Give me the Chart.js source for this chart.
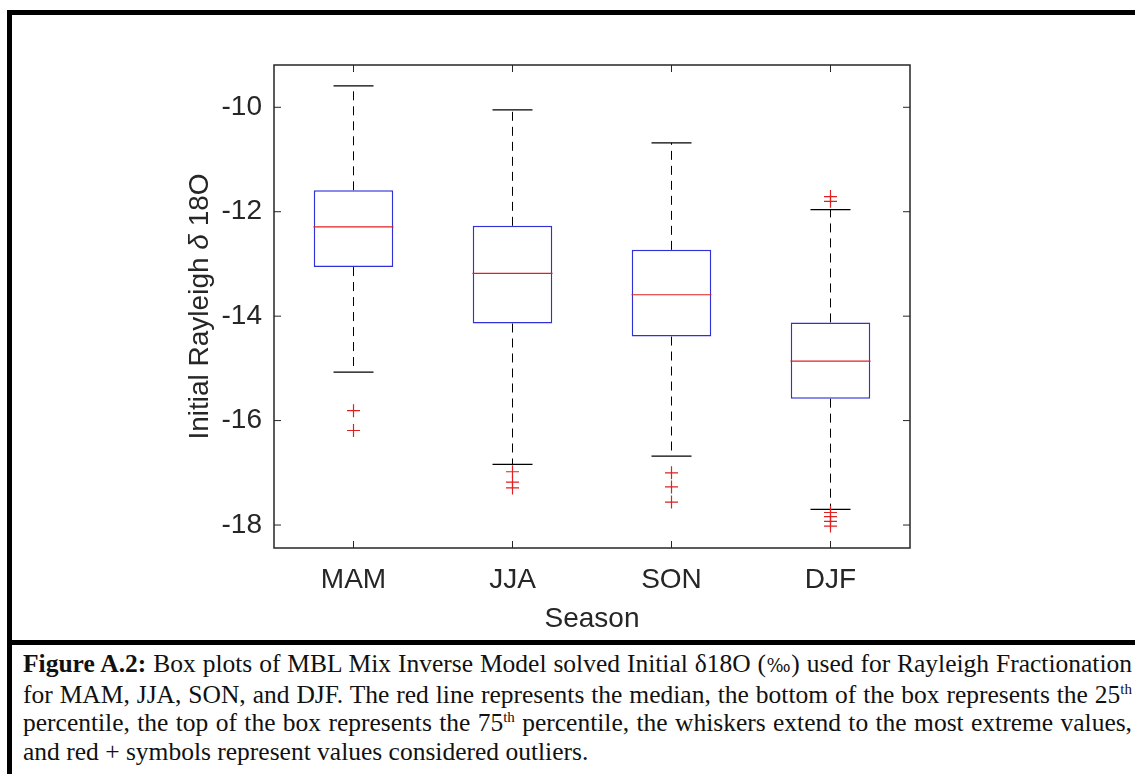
<!DOCTYPE html>
<html>
<head>
<meta charset="utf-8">
<script src="https://cdn.jsdelivr.net/npm/chart.js@4.4.1/dist/chart.umd.min.js"></script>
<style>
    body { margin: 0; background: #fff; width: 1135px; height: 774px; overflow: hidden; position: relative; }
    #frame { position: absolute; left: 7px; top: 10px; width: 1150px; height: 635px; box-sizing: border-box; border: 5px solid #000; }
    #capbox { position: absolute; left: 7px; top: 645px; width: 5px; height: 140px; background: #000; }
    #chart { position: absolute; left: 12px; top: 15px; }
    #caption { position: absolute; left: 23px; top: 650px; width: 1109px; font-family: 'Liberation Serif', 'Times New Roman', serif; font-size: 25.5px; line-height: 28.5px; color: #111; }
    #caption div { text-align: justify; text-align-last: justify; white-space: nowrap; }
    #caption div.last { text-align-last: left; }
    #caption sup { font-size: 15px; vertical-align: 9px; line-height: 0; }
    #caption .pm { font-family: 'DejaVu Serif', serif; font-size: 18px; }
</style>
</head>
<body>
<div id="frame"></div>
<div id="capbox"></div>
<canvas id="chart" width="1123" height="626"></canvas>
<div id="caption">
    <div><b>Figure A.2:</b> Box plots of MBL Mix Inverse Model solved Initial δ18O (<span class="pm">‰</span>) used for Rayleigh Fractionation</div>
    <div>for MAM, JJA, SON, and DJF. The red line represents the median, the bottom of the box represents the 25<sup>th</sup></div>
    <div>percentile, the top of the box represents the 75<sup>th</sup> percentile, the whiskers extend to the most extreme values,</div>
    <div class="last">and red + symbols represent values considered outliers.</div>
</div>
<script>
// Box plot values
const seasons = ['MAM', 'JJA', 'SON', 'DJF'];
const whiskerLow = [-15.07, -16.84, -16.68, -17.70];
const q1 = [-13.06, -14.14, -14.39, -15.58];
const median = [-12.29, -13.18, -13.59, -14.86];
const q3 = [-11.59, -12.27, -12.73, -14.12];
const whiskerHigh = [-9.59, -10.05, -10.68, -11.96];
const outliers = [
    [-15.81, -16.19],
    [-16.98, -17.18, -17.29],
    [-17.00, -17.27, -17.56],
    [-11.71, -11.80, -17.76, -17.84, -17.93, -18.02]
];
const yTicks = [-18, -16, -14, -12, -10];
const yMin = -18.44;
const yMax = -9.19;
const yTitle = ['Initial Rayleigh ', 'δ', ' 18O'];

const axisColor = '#262626';
const fontFamily = "'Liberation Sans', Arial, sans-serif";
const font = { family: fontFamily, size: 28 };

// dashed whisker stems, broken with nulls between segments
const stems = [];
seasons.forEach(function(s, i) {
    stems.push({ x: s, y: q3[i] }, { x: s, y: whiskerHigh[i] }, { x: s, y: null });
    stems.push({ x: s, y: q1[i] }, { x: s, y: whiskerLow[i] }, { x: s, y: null });
});

const caps = [];
seasons.forEach(function(s, i) {
    caps.push({ x: s, y: whiskerHigh[i] }, { x: s, y: whiskerLow[i] });
});

const outlierPts = [];
seasons.forEach(function(s, i) {
    outliers[i].forEach(function(v) { outlierPts.push({ x: s, y: v }); });
});

// box frame and inward ticks like MATLAB, plus the y title with an italic delta
const frameTicks = {
    id: 'frameTicks',
    afterDatasetsDraw(chart) {
        const ctx = chart.ctx;
        const a = chart.chartArea;
        const xs = chart.scales.x, ys = chart.scales.y;
        const len = 7;
        ctx.save();
        ctx.strokeStyle = axisColor;
        ctx.lineWidth = 1.5;
        ctx.strokeRect(a.left, a.top, a.right - a.left, a.bottom - a.top);
        ctx.lineWidth = 1;
        ctx.beginPath();
        yTicks.forEach(function(v) {
            const py = ys.getPixelForValue(v);
            ctx.moveTo(a.left, py); ctx.lineTo(a.left + len, py);
            ctx.moveTo(a.right, py); ctx.lineTo(a.right - len, py);
        });
        seasons.forEach(function(s, i) {
            const px = xs.getPixelForValue(i);
            ctx.moveTo(px, a.bottom); ctx.lineTo(px, a.bottom - len);
            ctx.moveTo(px, a.top); ctx.lineTo(px, a.top + len);
        });
        ctx.stroke();

        // y title
        const fonts = ['28px ' + fontFamily, 'italic 28px ' + fontFamily, '28px ' + fontFamily];
        let total = 0;
        const widths = yTitle.map(function(t, i) {
            ctx.font = fonts[i];
            const w = ctx.measureText(t).width;
            total += w;
            return w;
        });
        ctx.translate(ys.left + 38, (a.top + a.bottom) / 2);
        ctx.rotate(-Math.PI / 2);
        ctx.fillStyle = axisColor;
        ctx.textBaseline = 'middle';
        ctx.textAlign = 'left';
        let x = -total / 2;
        yTitle.forEach(function(t, i) {
            ctx.font = fonts[i];
            ctx.fillText(t, x, 0);
            x += widths[i];
        });
        ctx.restore();
    }
};

new Chart(document.getElementById('chart'), {
    type: 'bar',
    data: {
        labels: seasons,
        datasets: [
            {
                type: 'line',
                data: stems,
                borderColor: '#000',
                borderWidth: 1,
                borderDash: [9, 6],
                pointRadius: 0,
                spanGaps: false,
                order: 3
            },
            {
                type: 'bar',
                data: q1.map(function(v, i) { return [v, q3[i]]; }),
                backgroundColor: '#ffffff',
                borderColor: '#3030d8',
                borderWidth: 1.5,
                borderSkipped: false,
                barPercentage: 0.5,
                categoryPercentage: 1,
                order: 2
            },
            {
                type: 'line',
                data: median,
                showLine: false,
                pointStyle: 'line',
                pointRadius: 40,
                pointBorderColor: '#e02020',
                pointBorderWidth: 1.2,
                order: 1
            },
            {
                type: 'line',
                data: caps,
                showLine: false,
                pointStyle: 'line',
                pointRadius: 20,
                pointBorderColor: '#000',
                pointBorderWidth: 1.2,
                order: 1
            },
            {
                type: 'line',
                data: outlierPts,
                showLine: false,
                pointStyle: 'cross',
                pointRadius: 6.5,
                pointBorderColor: '#e02020',
                pointBorderWidth: 1.2,
                order: 0
            }
        ]
    },
    options: {
        responsive: false,
        animation: false,
        events: [],
        layout: {
            padding: { left: 150, top: 50, right: 225, bottom: 0 }
        },
        plugins: {
            legend: { display: false },
            tooltip: { enabled: false }
        },
        scales: {
            x: {
                offset: true,
                grid: { display: false, drawTicks: false },
                border: { display: false },
                ticks: { color: axisColor, font: font, padding: 15 },
                title: {
                    display: true,
                    text: 'Season',
                    color: axisColor,
                    font: font,
                    padding: { top: 0, bottom: 5 }
                },
                afterFit: function(s) { s.height = 93; }
            },
            y: {
                min: yMin,
                max: yMax,
                grid: { display: false, drawTicks: false },
                border: { display: false },
                ticks: { color: axisColor, font: font, padding: 12 },
                afterBuildTicks: function(s) {
                    s.ticks = yTicks.map(function(v) { return { value: v }; });
                },
                afterFit: function(s) { s.width = 112; }
            }
        }
    },
    plugins: [frameTicks]
});
</script>
</body>
</html>
